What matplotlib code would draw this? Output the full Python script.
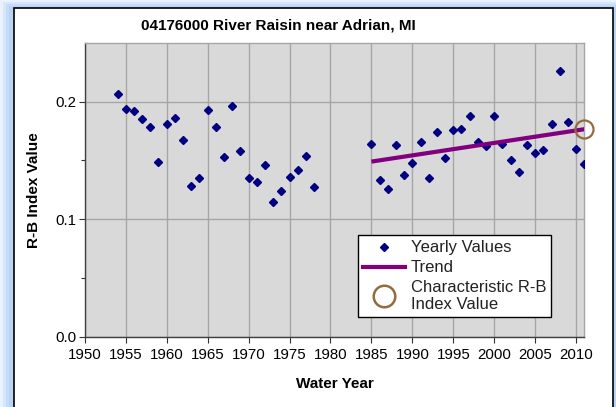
import matplotlib
matplotlib.use("Agg")
import matplotlib.pyplot as plt
from matplotlib.lines import Line2D
from matplotlib.patches import Rectangle

plt.rcParams['font.family'] = ['Liberation Sans', 'DejaVu Sans']

# Yearly R-B index values
years_early = [1954, 1955, 1956, 1957, 1958, 1959, 1960, 1961, 1962, 1963, 1964,
               1965, 1966, 1967, 1968, 1969, 1970, 1971, 1972, 1973, 1974, 1975,
               1976, 1977, 1978]
rb_early = [0.206, 0.194, 0.192, 0.185, 0.178, 0.149, 0.181, 0.186, 0.167, 0.128,
            0.135, 0.193, 0.178, 0.153, 0.196, 0.158, 0.135, 0.132, 0.146, 0.115,
            0.124, 0.136, 0.142, 0.154, 0.127]
years_late = [1985, 1986, 1987, 1988, 1989, 1990, 1991, 1992, 1993, 1994, 1995,
              1996, 1997, 1998, 1999, 2000, 2001, 2002, 2003, 2004, 2005, 2006,
              2007, 2008, 2009, 2010, 2011]
rb_late = [0.164, 0.133, 0.126, 0.163, 0.138, 0.148, 0.166, 0.135, 0.174, 0.152,
           0.176, 0.177, 0.188, 0.166, 0.162, 0.188, 0.164, 0.150, 0.140, 0.163,
           0.156, 0.159, 0.181, 0.226, 0.183, 0.160, 0.147]

# Trend over the recent period and the characteristic value
trend_years = [1985, 2011]
trend_vals = [0.149, 0.1765]
char_year = 2011
char_val = 0.1765

years = years_early + years_late
rb = rb_early + rb_late

fig = plt.figure(figsize=(6.16, 4.07), dpi=100)
fig.patch.set_facecolor('white')

# soft blue glow around the chart frame
glow = ['#eaf2fd', '#d6e6fb', '#c5dbf8', '#b9d3f6']
for i, c in enumerate(glow):
    fig.patches.append(Rectangle((i * 3 / 616, 0), 1 - i * 3 / 616, 1 - i * 2 / 407,
                                 transform=fig.transFigure, facecolor=c,
                                 edgecolor='none', zorder=0))
fig.patches.append(Rectangle((14 / 616, -0.01), (613 - 14) / 616, (407 - 8) / 407 + 0.01,
                             transform=fig.transFigure, facecolor='white',
                             edgecolor='black', linewidth=1.2, zorder=1))

ax = fig.add_axes([84.8 / 616, 70 / 407, 499.5 / 616, 294.3 / 407])
ax.set_zorder(2)
ax.set_facecolor('#d9d9d9')

ax.plot(years, rb, linestyle='none', marker='D', markersize=3.8,
        color='#000080', label='Yearly Values', zorder=3)
ax.plot(trend_years, trend_vals, color='#800080', linewidth=3, label='Trend',
        solid_capstyle='butt', zorder=4)
ax.plot([char_year], [char_val], linestyle='none', marker='o', markersize=13,
        markerfacecolor='none', markeredgecolor='#946b3f', markeredgewidth=1.6,
        clip_on=False, zorder=5)

ax.set_xlim(1950, 2011)
ax.set_ylim(0, 0.25)
ax.set_xticks(range(1950, 2011, 5))
ax.set_yticks([0.0, 0.1, 0.2])
ax.set_yticklabels(['0.0', '0.1', '0.2'])
ax.set_yticks([0.05, 0.15], minor=True)
ax.tick_params(axis='both', which='major', direction='out', length=4,
               width=0.8, labelsize=10.8, colors='#333333', labelcolor='black')
ax.tick_params(axis='y', which='minor', direction='out', length=3, width=0.8,
               colors='#333333')
ax.tick_params(axis='x', pad=4)
ax.tick_params(axis='y', pad=2)

ax.grid(True, which='major', color='#a6a6a6', linewidth=1.0)
ax.set_axisbelow(True)
for side in ['top', 'right']:
    ax.spines[side].set_color('#a6a6a6')
    ax.spines[side].set_linewidth(1.0)
for side in ['left', 'bottom']:
    ax.spines[side].set_color('#404040')
    ax.spines[side].set_linewidth(1.0)

fig.text(278 / 616, 1 - 26 / 407, '04176000 River Raisin near Adrian, MI',
         fontsize=11, fontweight='bold', ha='center', va='center')
ax.set_xlabel('Water Year', fontsize=11, fontweight='bold', labelpad=11)
ax.set_ylabel('R-B Index Value', fontsize=11, fontweight='bold', labelpad=10)

handles = [
    Line2D([], [], linestyle='none', marker='D', markersize=3.6, color='#000080'),
    Line2D([], [], color='#800080', linewidth=3),
    Line2D([], [], linestyle='none', marker='o', markersize=15.5,
           markerfacecolor='none', markeredgecolor='#946b3f', markeredgewidth=1.8),
]
labels = ['Yearly Values', 'Trend', 'Characteristic R-B\nIndex Value']
leg = ax.legend(handles, labels, loc='upper left', bbox_to_anchor=(0.5476, 0.345),
                borderaxespad=0, fontsize=12, frameon=True, fancybox=False,
                edgecolor='black', framealpha=1, handlelength=2.5,
                handletextpad=0.35, labelspacing=0.3, borderpad=0.3)
leg.get_frame().set_linewidth(1.0)
for t in leg.get_texts():
    t.set_linespacing(1.12)
    t.set_color('#222222')
leg.set_zorder(6)

fig.savefig('out.png', dpi=100)
